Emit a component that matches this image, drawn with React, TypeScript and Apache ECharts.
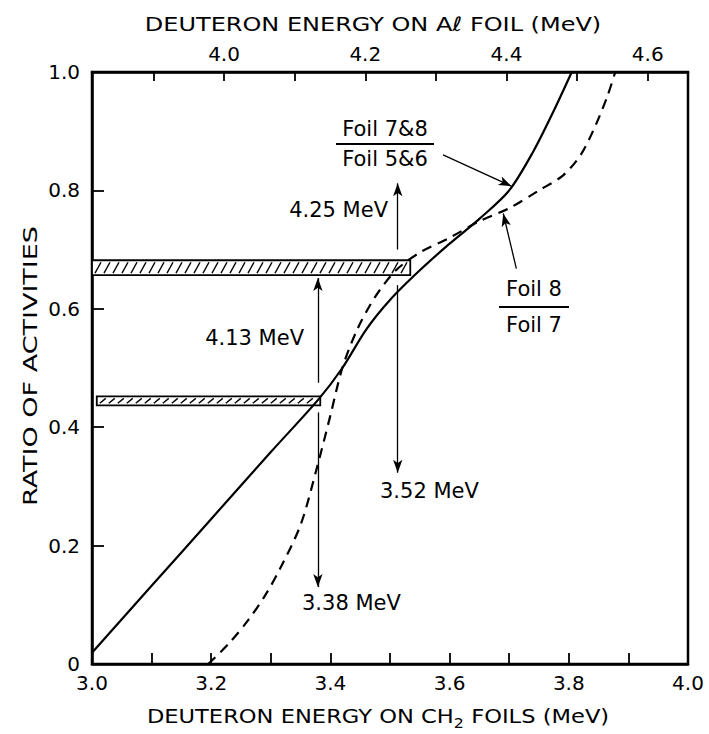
import React, { useEffect, useRef } from "react";
import * as echarts from "echarts";

// Bottom axis (CH2 foils energy, MeV)
const xTickValues = [3.1, 3.2, 3.3, 3.4, 3.5, 3.6, 3.7, 3.8, 3.9];
const xLabelValues = [3.0, 3.2, 3.4, 3.6, 3.8, 4.0];
// Top axis (Al foil energy, MeV)
const topTickValues = [3.9, 4.0, 4.1, 4.2, 4.3, 4.4, 4.5, 4.6];
const topLabelValues = [4.0, 4.2, 4.4, 4.6];
const topMin = 3.813;
const topMax = 4.657;
// Y axis
const yLabelValues = [0, 0.2, 0.4, 0.6, 0.8, 1.0];

// Foil 7&8 / Foil 5&6 (solid)
const solidX = [3.0, 3.1, 3.2, 3.3, 3.38, 3.42, 3.46, 3.5, 3.55, 3.6, 3.65, 3.7, 3.74, 3.775, 3.805];
const solidY = [0.019, 0.132, 0.245, 0.358, 0.447, 0.5, 0.565, 0.615, 0.665, 0.71, 0.752, 0.8, 0.865, 0.935, 1.0];

// Foil 8 / Foil 7 (dashed)
const dashedX = [3.195, 3.23, 3.262, 3.29, 3.315, 3.35, 3.377, 3.4, 3.42, 3.445, 3.475, 3.51, 3.55, 3.6, 3.65, 3.7, 3.75, 3.79, 3.82, 3.845, 3.865, 3.878];
const dashedY = [0.0, 0.035, 0.074, 0.115, 0.16, 0.235, 0.33, 0.42, 0.5, 0.565, 0.62, 0.665, 0.695, 0.72, 0.748, 0.77, 0.8, 0.825, 0.86, 0.91, 0.96, 1.0];

// Hatched bands: [xStart, xEnd, yLow, yHigh]
const bands = [
  [3.0, 3.534, 0.657, 0.682],
  [3.008, 3.383, 0.437, 0.452],
];

// Arrows: [x0, y0, x1, y1] (tip at x1,y1)
const arrows = [
  [3.513, 0.7, 3.513, 0.812], // 4.25 MeV up
  [3.513, 0.64, 3.513, 0.323], // 3.52 MeV down
  [3.379, 0.475, 3.379, 0.652], // 4.13 MeV up
  [3.379, 0.425, 3.379, 0.13], // 3.38 MeV down
  [3.589, 0.86, 3.704, 0.807], // label -> solid curve
  [3.712, 0.668, 3.69, 0.761], // label -> dashed curve
];

const FONT = "DejaVu Sans";

export default function App() {
  const ref = useRef<HTMLDivElement>(null);
  useEffect(() => {
    if (!ref.current) return;
    const chart = echarts.init(ref.current, null, { renderer: "svg" });
    const solid = solidX.map((x, i) => [x, solidY[i]]);
    const dashed = dashedX.map((x, i) => [x, dashedY[i]]);
    const fmt1 = (v: number) => (Math.abs(v) < 1e-9 ? "0" : v.toFixed(1));
    const labelStyle = { color: "#000", fontFamily: FONT, fontSize: 20 };
    const ann = `21px '${FONT}'`;

    chart.setOption({
      animation: false,
      backgroundColor: "#fff",
      grid: {
        left: 92,
        top: 72,
        right: 21,
        bottom: 70,
        show: true,
        borderColor: "#000",
        borderWidth: 2.5,
        backgroundColor: "transparent",
      },
      xAxis: [
        {
          type: "value",
          position: "bottom",
          min: 3.0,
          max: 4.0,
          interval: 0.1,
          axisLine: { show: true, onZero: false, lineStyle: { color: "#000", width: 2.5 } },
          axisTick: { show: true, inside: true, length: 11, lineStyle: { color: "#000", width: 1.8 }, customValues: xTickValues },
          axisLabel: { ...labelStyle, margin: 9, customValues: xLabelValues, formatter: (v: number) => v.toFixed(1) },
          splitLine: { show: false },
        },
        {
          type: "value",
          position: "top",
          min: topMin,
          max: topMax,
          axisLine: { show: true, onZero: false, lineStyle: { color: "#000", width: 2.5 } },
          axisTick: { show: true, inside: true, length: 9, lineStyle: { color: "#000", width: 1.8 }, customValues: topTickValues },
          axisLabel: { ...labelStyle, margin: 8, customValues: topLabelValues, formatter: (v: number) => v.toFixed(1) },
          splitLine: { show: false },
        },
      ],
      yAxis: {
        type: "value",
        min: 0,
        max: 1,
        interval: 0.2,
        axisLine: { show: true, lineStyle: { color: "#000", width: 2.5 } },
        axisTick: { show: true, inside: true, length: 12, lineStyle: { color: "#000", width: 1.8 } },
        axisLabel: { ...labelStyle, margin: 12, customValues: yLabelValues, formatter: fmt1 },
        splitLine: { show: false },
      },
      series: [
        {
          type: "custom",
          xAxisIndex: 0,
          data: bands,
          encode: { x: [0, 1], y: [2, 3] },
          silent: true,
          z: 3,
          renderItem: (params: any, api: any) => {
            const p0 = api.coord([api.value(0), api.value(2)]);
            const p1 = api.coord([api.value(1), api.value(3)]);
            const left = p0[0];
            const right = p1[0];
            const bottom = p0[1];
            const top = p1[1];
            const children: any[] = [
              {
                type: "rect",
                shape: { x: left, y: top, width: right - left, height: bottom - top },
                style: { fill: "#fff", stroke: "#000", lineWidth: 1.8 },
              },
            ];
            for (let x = left + 3; x < right - 7; x += 9) {
              children.push({
                type: "line",
                shape: { x1: x, y1: bottom - 2, x2: x + 6, y2: top + 2 },
                style: { stroke: "#000", lineWidth: 1.4 },
              });
            }
            return { type: "group", children };
          },
        },
        {
          type: "line",
          name: "Foil 7&8 / Foil 5&6",
          data: solid,
          smooth: 0.3,
          showSymbol: false,
          symbol: "none",
          z: 4,
          lineStyle: { color: "#000", width: 2.2 },
        },
        {
          type: "line",
          name: "Foil 8 / Foil 7",
          data: dashed,
          smooth: 0.3,
          showSymbol: false,
          symbol: "none",
          z: 4,
          lineStyle: { color: "#000", width: 2.2, type: [10, 7] },
        },
        {
          type: "line",
          data: [],
          z: 5,
          markLine: {
            silent: true,
            symbol: ["none", "arrow"],
            symbolSize: [7, 13],
            label: { show: false },
            lineStyle: { color: "#000", width: 1.3, type: "solid" },
            data: arrows.map((a) => [{ coord: [a[0], a[1]] }, { coord: [a[2], a[3]] }]),
          },
        },
      ],
      graphic: [
        {
          type: "text",
          x: 373,
          y: 24,
          scaleX: 1.2,
          style: { text: "DEUTERON ENERGY ON Aℓ FOIL (MeV)", fill: "#000", font: `20px '${FONT}'`, align: "center", verticalAlign: "middle" },
        },
        {
          type: "text",
          x: 378,
          y: 716,
          scaleX: 1.13,
          style: {
            text: "DEUTERON ENERGY ON CH{sub|2} FOILS (MeV)",
            fill: "#000",
            font: `20px '${FONT}'`,
            align: "center",
            verticalAlign: "middle",
            rich: { sub: { fontSize: 14, fontFamily: FONT, padding: [14, 0, 0, 0], fill: "#000" } },
          },
        },
        {
          type: "text",
          x: 30,
          y: 366,
          rotation: Math.PI / 2,
          scaleX: 1.35,
          style: { text: "RATIO OF ACTIVITIES", fill: "#000", font: `20px '${FONT}'`, align: "center", verticalAlign: "middle" },
        },
        { type: "text", x: 385, y: 129, style: { text: "Foil 7&8", fill: "#000", font: ann, align: "center", verticalAlign: "middle" } },
        { type: "line", shape: { x1: 336, y1: 144, x2: 434, y2: 144 }, style: { stroke: "#000", lineWidth: 1.8 } },
        { type: "text", x: 385, y: 159, style: { text: "Foil 5&6", fill: "#000", font: ann, align: "center", verticalAlign: "middle" } },
        { type: "text", x: 534, y: 289, style: { text: "Foil 8", fill: "#000", font: ann, align: "center", verticalAlign: "middle" } },
        { type: "line", shape: { x1: 499, y1: 307, x2: 569, y2: 307 }, style: { stroke: "#000", lineWidth: 1.8 } },
        { type: "text", x: 534, y: 325, style: { text: "Foil 7", fill: "#000", font: ann, align: "center", verticalAlign: "middle" } },
        { type: "text", x: 388, y: 210, style: { text: "4.25 MeV", fill: "#000", font: ann, align: "right", verticalAlign: "middle" } },
        { type: "text", x: 304, y: 338, style: { text: "4.13 MeV", fill: "#000", font: ann, align: "right", verticalAlign: "middle" } },
        { type: "text", x: 380, y: 491, style: { text: "3.52 MeV", fill: "#000", font: ann, align: "left", verticalAlign: "middle" } },
        { type: "text", x: 302, y: 603, style: { text: "3.38 MeV", fill: "#000", font: ann, align: "left", verticalAlign: "middle" } },
      ],
    });
    return () => chart.dispose();
  }, []);
  return (
    <div
      ref={ref}
      style={{ position: "absolute", left: 0, top: 0, width: 709, height: 734, background: "#fff" }}
    />
  );
}
